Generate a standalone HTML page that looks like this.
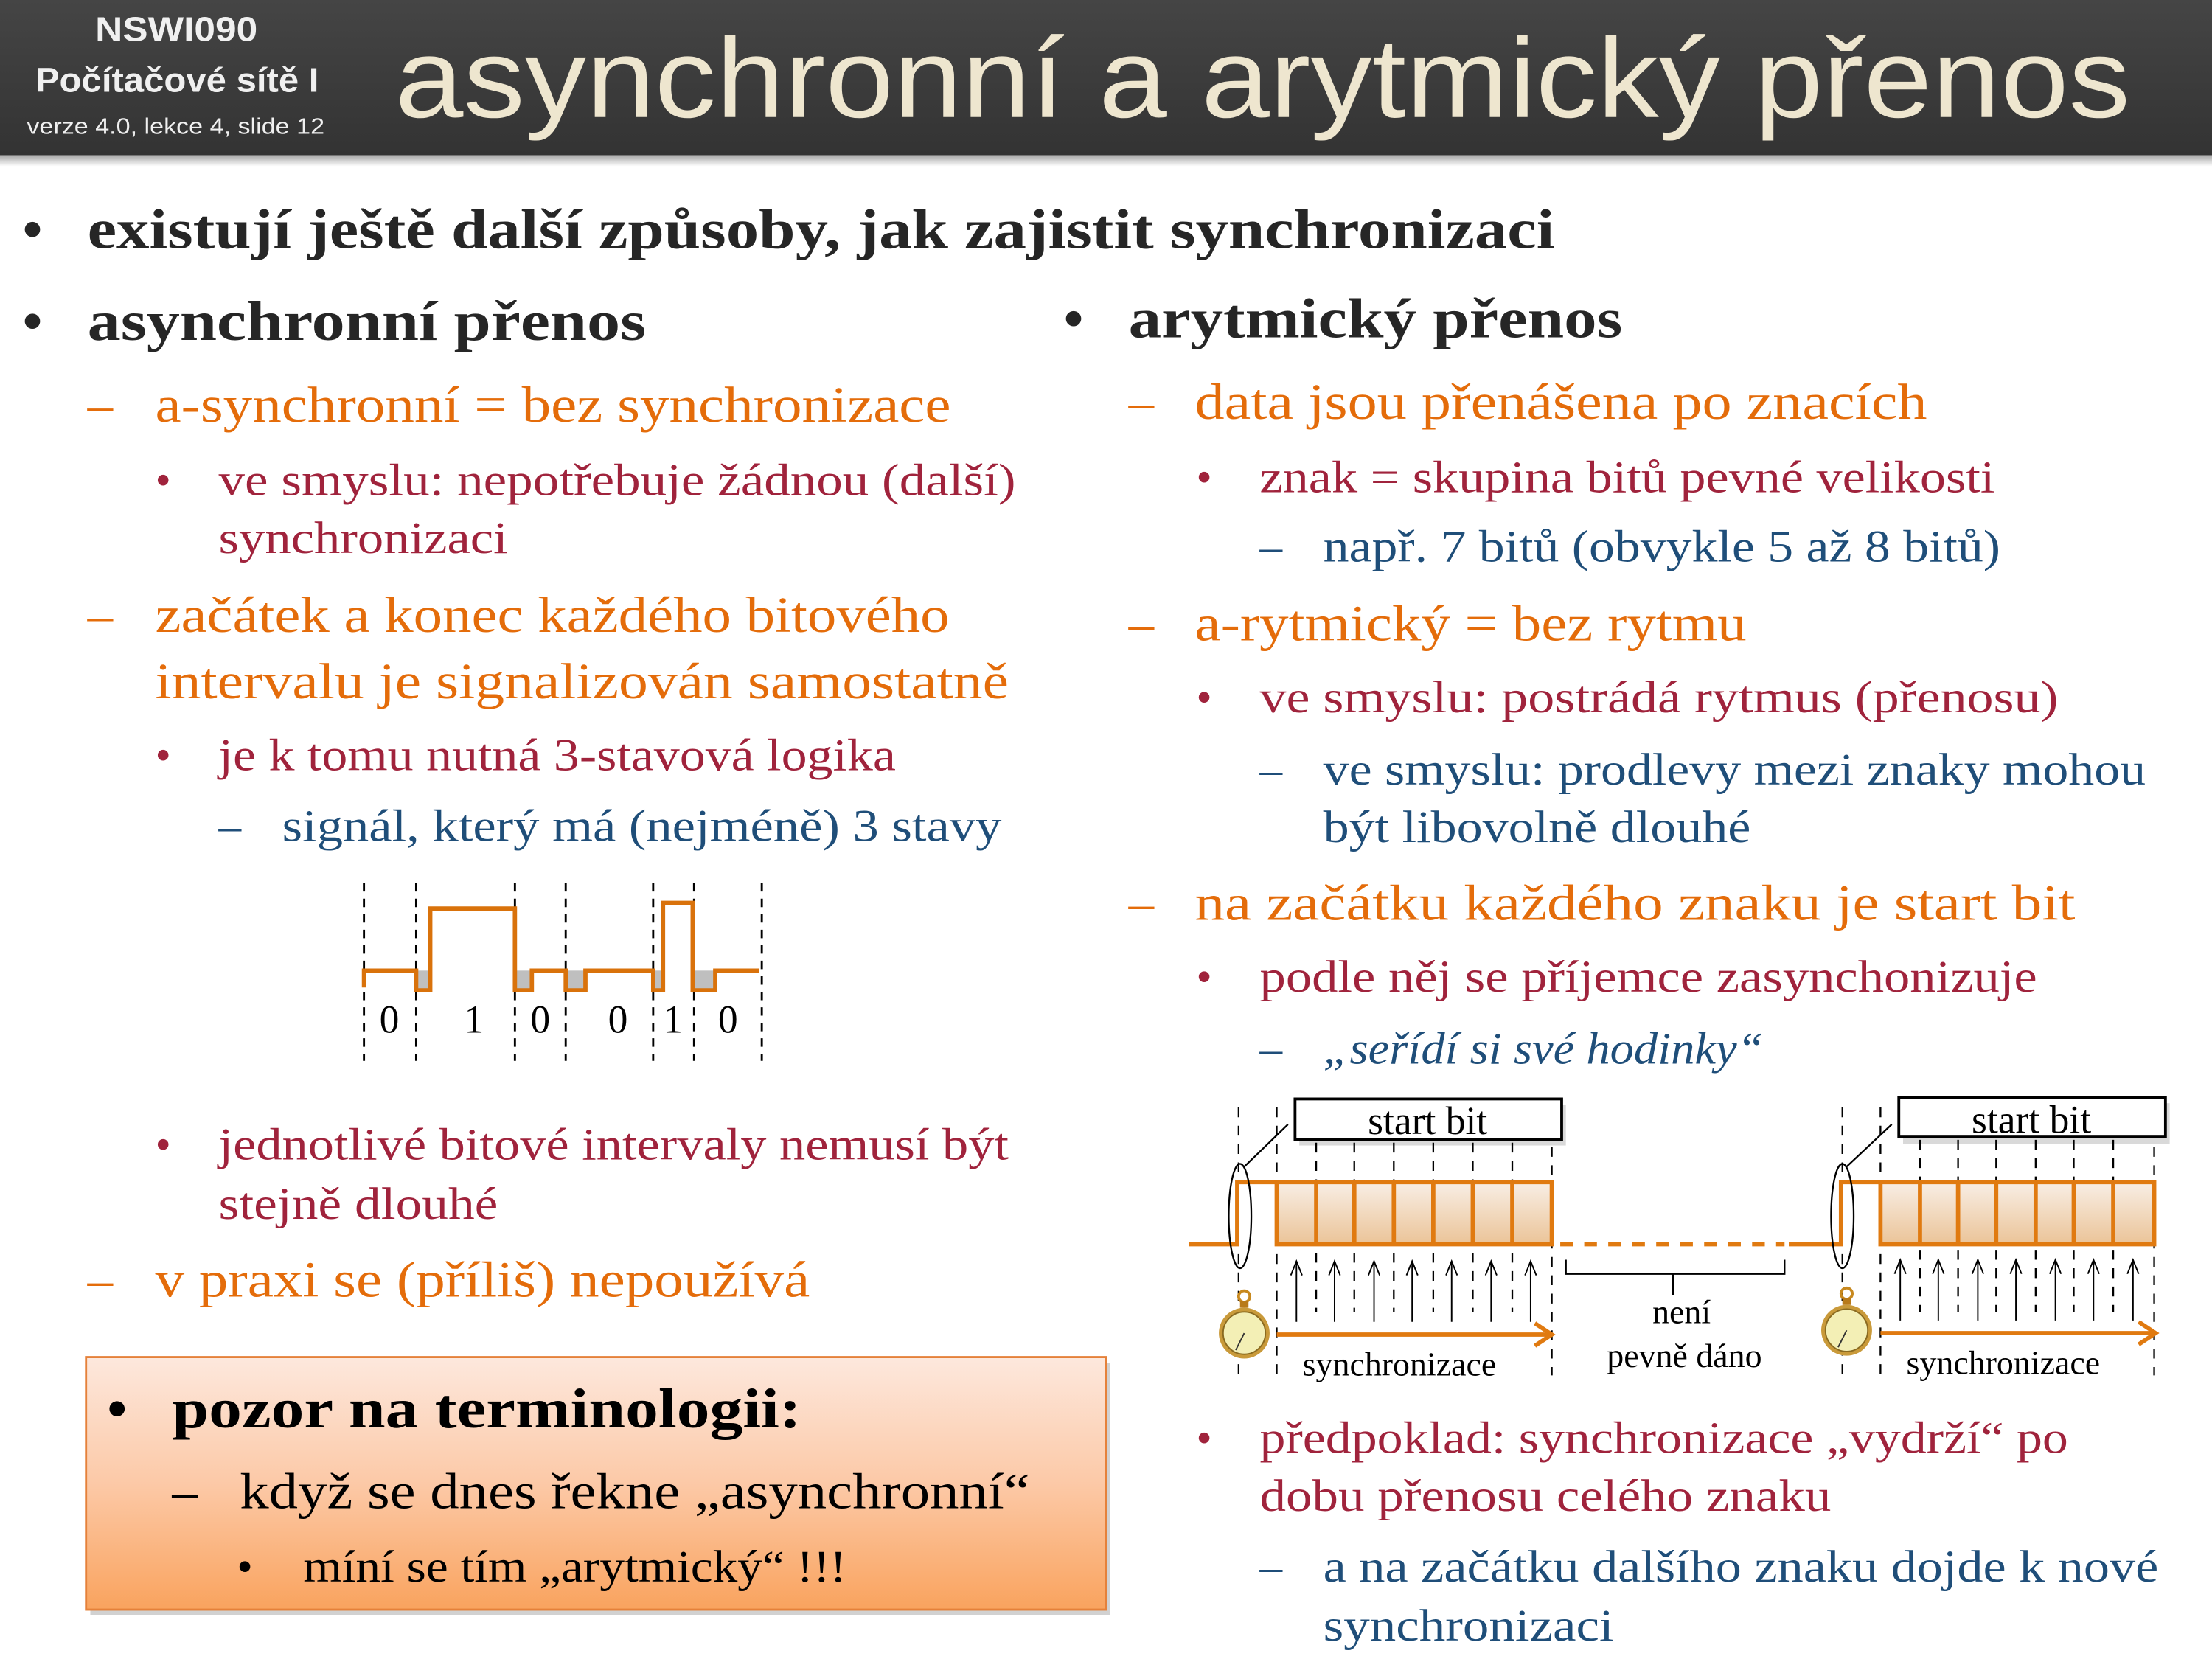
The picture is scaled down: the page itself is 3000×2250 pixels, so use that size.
<!DOCTYPE html>
<html><head><meta charset="utf-8"><style>
html,body{margin:0;padding:0;background:#fff;}
svg{display:block;}
.s{font-family:"Liberation Serif",serif;}
.b{font-weight:bold;fill:#262626;}
.o{fill:#e46c0a;font-size:36px;}
.r{fill:#a0233c;font-size:32px;}
.u{fill:#1f4e79;font-size:32px;}
.k{fill:#000;}
</style></head><body>
<svg width="3000" height="2250" viewBox="0 0 1568 1176" xmlns="http://www.w3.org/2000/svg">
<defs>
<linearGradient id="hdr" x1="0" y1="0" x2="0" y2="1"><stop offset="0" stop-color="#454545"/><stop offset="1" stop-color="#333"/></linearGradient>
<linearGradient id="box" x1="0" y1="0" x2="0" y2="1"><stop offset="0" stop-color="#fde8dd"/><stop offset="0.5" stop-color="#fcc9a7"/><stop offset="1" stop-color="#f9a35e"/></linearGradient>
<linearGradient id="cell" x1="0" y1="0" x2="0" y2="1"><stop offset="0" stop-color="#f8eee5"/><stop offset="1" stop-color="#ebc498"/></linearGradient>
<linearGradient id="shd" x1="0" y1="0" x2="0" y2="1"><stop offset="0" stop-color="#000" stop-opacity="0.35"/><stop offset="1" stop-color="#000" stop-opacity="0"/></linearGradient>
<marker id="ah" markerWidth="12" markerHeight="12" refX="10" refY="5" orient="auto" markerUnits="userSpaceOnUse" overflow="visible"><path d="M0,1 L10,5 L0,9" fill="none" stroke="#000" stroke-width="1"/></marker>
</defs>
<!-- header -->
<rect x="0" y="110" width="1568" height="8" fill="url(#shd)"/>
<rect x="0" y="0" width="1568" height="110" fill="url(#hdr)"/>
<g font-family="Liberation Sans, sans-serif" fill="#f0f0f0">
<text x="125" y="29" font-size="24" font-weight="bold" text-anchor="middle" textLength="115" lengthAdjust="spacingAndGlyphs">NSWI090</text>
<text x="25" y="65" font-size="24" font-weight="bold" textLength="201" lengthAdjust="spacingAndGlyphs">Počítačové sítě I</text>
<text x="19" y="95" font-size="16" textLength="211" lengthAdjust="spacingAndGlyphs">verze 4.0, lekce  4, slide 12</text>
<text x="280" y="83" font-size="80" fill="#eee6cf" textLength="1230" lengthAdjust="spacingAndGlyphs">asynchronní a arytmický přenos</text>
</g>

<g class="s">
<text x="16" y="176" font-size="40" class="b">•</text>
<text x="62" y="176" font-size="40" class="b" textLength="1040" lengthAdjust="spacingAndGlyphs">existují ještě další způsoby, jak zajistit synchronizaci</text>
<text x="16" y="241" font-size="40" class="b">•</text>
<text x="62" y="241" font-size="40" class="b" textLength="396" lengthAdjust="spacingAndGlyphs">asynchronní přenos</text>
<text x="754" y="239" font-size="40" class="b">•</text>
<text x="800" y="239" font-size="40" class="b" textLength="350" lengthAdjust="spacingAndGlyphs">arytmický přenos</text>

<text x="62" y="299" class="o">–</text><text x="110" y="299" class="o" textLength="564" lengthAdjust="spacingAndGlyphs">a-synchronní = bez synchronizace</text>
<text x="110" y="351" class="r">•</text><text x="155" y="351" class="r" textLength="565" lengthAdjust="spacingAndGlyphs">ve smyslu: nepotřebuje žádnou (další)</text>
<text x="155" y="392" class="r" textLength="205" lengthAdjust="spacingAndGlyphs">synchronizaci</text>
<text x="62" y="448" class="o">–</text><text x="110" y="448" class="o" textLength="563" lengthAdjust="spacingAndGlyphs">začátek a konec každého bitového</text>
<text x="110" y="495" class="o" textLength="605" lengthAdjust="spacingAndGlyphs">intervalu je signalizován samostatně</text>
<text x="110" y="546" class="r">•</text><text x="155" y="546" class="r" textLength="480" lengthAdjust="spacingAndGlyphs">je k tomu nutná 3-stavová logika</text>
<text x="155" y="596" class="u">–</text><text x="200" y="596" class="u" textLength="510" lengthAdjust="spacingAndGlyphs">signál, který má (nejméně) 3 stavy</text>
<text x="110" y="822" class="r">•</text><text x="155" y="822" class="r" textLength="560" lengthAdjust="spacingAndGlyphs">jednotlivé bitové intervaly nemusí být</text>
<text x="155" y="864" class="r" textLength="198" lengthAdjust="spacingAndGlyphs">stejně dlouhé</text>
<text x="62" y="919" class="o">–</text><text x="110" y="919" class="o" textLength="464" lengthAdjust="spacingAndGlyphs">v praxi se (příliš) nepoužívá</text>

<text x="800" y="297" class="o">–</text><text x="847" y="297" class="o" textLength="519" lengthAdjust="spacingAndGlyphs">data jsou přenášena po znacích</text>
<text x="848" y="349" class="r">•</text><text x="893" y="349" class="r" textLength="521" lengthAdjust="spacingAndGlyphs">znak = skupina bitů pevné velikosti</text>
<text x="893" y="398" class="u">–</text><text x="938" y="398" class="u" textLength="480" lengthAdjust="spacingAndGlyphs">např. 7 bitů (obvykle 5 až 8 bitů)</text>
<text x="800" y="454" class="o">–</text><text x="847" y="454" class="o" textLength="391" lengthAdjust="spacingAndGlyphs">a-rytmický = bez rytmu</text>
<text x="848" y="505" class="r">•</text><text x="893" y="505" class="r" textLength="566" lengthAdjust="spacingAndGlyphs">ve smyslu: postrádá rytmus (přenosu)</text>
<text x="893" y="556" class="u">–</text><text x="938" y="556" class="u" textLength="583" lengthAdjust="spacingAndGlyphs">ve smyslu: prodlevy mezi znaky mohou</text>
<text x="938" y="597" class="u" textLength="303" lengthAdjust="spacingAndGlyphs">být libovolně dlouhé</text>
<text x="800" y="652" class="o">–</text><text x="847" y="652" class="o" textLength="624" lengthAdjust="spacingAndGlyphs">na začátku každého znaku  je start bit</text>
<text x="848" y="703" class="r">•</text><text x="893" y="703" class="r" textLength="551" lengthAdjust="spacingAndGlyphs">podle něj se příjemce zasynchonizuje</text>
<text x="893" y="754" class="u">–</text><text x="938" y="754" class="u" font-style="italic" textLength="312" lengthAdjust="spacingAndGlyphs">„seřídí si své hodinky“</text>
<text x="848" y="1030" class="r">•</text><text x="893" y="1030" class="r" textLength="573" lengthAdjust="spacingAndGlyphs">předpoklad: synchronizace „vydrží“ po</text>
<text x="893" y="1071" class="r" textLength="405" lengthAdjust="spacingAndGlyphs">dobu přenosu celého znaku</text>
<text x="893" y="1121" class="u">–</text><text x="938" y="1121" class="u" textLength="592" lengthAdjust="spacingAndGlyphs">a na začátku dalšího znaku dojde k nové</text>
<text x="938" y="1163" class="u" textLength="206" lengthAdjust="spacingAndGlyphs">synchronizaci</text>
</g>

<rect x="64" y="966" width="723" height="179" fill="#000" opacity="0.18"/>
<rect x="61" y="962" width="723" height="179" fill="url(#box)" stroke="#e5813a" stroke-width="1.5"/>
<g class="s k">
<text x="76" y="1012" font-size="40" font-weight="bold">•</text>
<text x="122" y="1012" font-size="40" font-weight="bold" textLength="446" lengthAdjust="spacingAndGlyphs">pozor na terminologii:</text>
<text x="122" y="1069" font-size="36">–</text>
<text x="170" y="1069" font-size="36" textLength="560" lengthAdjust="spacingAndGlyphs">když se dnes řekne „asynchronní“</text>
<text x="168" y="1121" font-size="32">•</text>
<text x="215" y="1121" font-size="32" textLength="385" lengthAdjust="spacingAndGlyphs">míní se tím „arytmický“ !!!</text>
</g>

<g stroke="#000" stroke-width="1.5" stroke-dasharray="6,5">
<line x1="258" y1="626" x2="258" y2="752"/><line x1="295" y1="626" x2="295" y2="752"/>
<line x1="365" y1="626" x2="365" y2="752"/><line x1="401" y1="626" x2="401" y2="752"/>
<line x1="463" y1="626" x2="463" y2="752"/><line x1="492" y1="626" x2="492" y2="752"/>
<line x1="540" y1="626" x2="540" y2="752"/>
</g>
<g fill="#bfbfbf">
<rect x="295" y="688" width="10" height="14"/><rect x="365" y="688" width="12" height="14"/>
<rect x="401" y="688" width="14" height="14"/><rect x="463" y="688" width="7" height="14"/>
<rect x="492" y="688" width="15" height="14"/>
</g>
<path d="M258,700 V688 H295 V702 H305 V644 H365 V702 H377 V688 H401 V702 H415 V688 H463 V702 H470 V640 H491 V702 H507 V688 H538" fill="none" stroke="#d9720b" stroke-width="3"/>
<g class="s" font-size="28" fill="#000" text-anchor="middle">
<text x="276" y="732">0</text><text x="336" y="732">1</text><text x="383" y="732">0</text>
<text x="438" y="732">0</text><text x="477" y="732">1</text><text x="516" y="732">0</text>
</g>

<g stroke="#000" stroke-width="1.2" stroke-dasharray="7,6">
<line x1="878" y1="785" x2="878" y2="975"/><line x1="905" y1="785" x2="905" y2="975"/>
<line x1="933" y1="810" x2="933" y2="930"/><line x1="960" y1="810" x2="960" y2="930"/>
<line x1="988" y1="810" x2="988" y2="930"/><line x1="1016" y1="810" x2="1016" y2="930"/>
<line x1="1044" y1="810" x2="1044" y2="930"/><line x1="1072" y1="810" x2="1072" y2="930"/>
<line x1="1100" y1="800" x2="1100" y2="975"/>
<line x1="1306" y1="785" x2="1306" y2="975"/><line x1="1333" y1="785" x2="1333" y2="975"/>
<line x1="1361" y1="808" x2="1361" y2="930"/><line x1="1388" y1="808" x2="1388" y2="930"/>
<line x1="1415" y1="808" x2="1415" y2="930"/><line x1="1443" y1="808" x2="1443" y2="930"/>
<line x1="1470" y1="808" x2="1470" y2="930"/><line x1="1498" y1="808" x2="1498" y2="930"/>
<line x1="1527" y1="800" x2="1527" y2="975"/>
</g>
<rect x="905" y="838" width="195" height="44" fill="url(#cell)"/>
<rect x="1333" y="838" width="194" height="44" fill="url(#cell)"/>
<g stroke="#e07a10" stroke-width="3" fill="none">
<path d="M843,882 H877 V838 H1100 V882 H905 V838"/>
<path d="M933,838 V882 M960,838 V882 M988,838 V882 M1016,838 V882 M1044,838 V882 M1072,838 V882"/>
<path d="M1268,882 H1305 V838 H1527 V882 H1333 V838"/>
<path d="M1361,838 V882 M1388,838 V882 M1415,838 V882 M1443,838 V882 M1470,838 V882 M1498,838 V882"/>
<path d="M1106,882 H1265" stroke-dasharray="9,8"/>
<path d="M905,946 H1098 M1088,938 L1100,946 L1088,954" />
<path d="M1333,945 H1526 M1516,937 L1528,945 L1516,953"/>
</g>
<rect x="921" y="783" width="189" height="29" fill="#000" opacity="0.15"/>
<rect x="918" y="779" width="189" height="29" fill="#fff" stroke="#000" stroke-width="2"/>
<rect x="1349" y="782" width="189" height="29" fill="#000" opacity="0.15"/>
<rect x="1346" y="778" width="189" height="28" fill="#fff" stroke="#000" stroke-width="2"/>
<g class="s" font-size="28" fill="#000" text-anchor="middle">
<text x="1012" y="804">start bit</text>
<text x="1440" y="803">start bit</text>
</g>
<g stroke="#000" stroke-width="1.2" fill="none">
<line x1="913" y1="797" x2="882" y2="827"/>
<ellipse cx="879" cy="862" rx="8" ry="37"/>
<line x1="1341" y1="797" x2="1309" y2="827"/>
<ellipse cx="1306" cy="862" rx="8" ry="37"/>
<path d="M1110,893 V903 H1186 V918 M1186,903 H1265 V893"/>
</g>
<g stroke="#000" stroke-width="1" marker-end="url(#ah)">
<line x1="919" y1="937" x2="919" y2="894"/><line x1="946" y1="937" x2="946" y2="894"/>
<line x1="974" y1="937" x2="974" y2="894"/><line x1="1001" y1="937" x2="1001" y2="894"/>
<line x1="1029" y1="937" x2="1029" y2="894"/><line x1="1057" y1="937" x2="1057" y2="894"/>
<line x1="1085" y1="937" x2="1085" y2="894"/>
<line x1="1347" y1="936" x2="1347" y2="893"/><line x1="1374" y1="936" x2="1374" y2="893"/>
<line x1="1402" y1="936" x2="1402" y2="893"/><line x1="1429" y1="936" x2="1429" y2="893"/>
<line x1="1457" y1="936" x2="1457" y2="893"/><line x1="1484" y1="936" x2="1484" y2="893"/>
<line x1="1512" y1="936" x2="1512" y2="893"/>
</g>
<g>
<circle cx="882" cy="919" r="4" fill="none" stroke="#c8891f" stroke-width="2"/>
<rect x="879" y="922" width="6" height="5" fill="#b87a1a"/>
<circle cx="882" cy="945" r="18" fill="#c99a3a"/>
<circle cx="882" cy="945" r="15" fill="#f3efb5" stroke="#8a6a20" stroke-width="1"/>
<line x1="882" y1="945" x2="876" y2="957" stroke="#333" stroke-width="1"/>
<circle cx="1309" cy="917" r="4" fill="none" stroke="#c8891f" stroke-width="2"/>
<rect x="1306" y="920" width="6" height="5" fill="#b87a1a"/>
<circle cx="1309" cy="943" r="18" fill="#c99a3a"/>
<circle cx="1309" cy="943" r="15" fill="#f3efb5" stroke="#8a6a20" stroke-width="1"/>
<line x1="1309" y1="943" x2="1303" y2="955" stroke="#333" stroke-width="1"/>
</g>
<g class="s" font-size="24" fill="#000" text-anchor="middle">
<text x="992" y="975">synchronizace</text>
<text x="1420" y="974">synchronizace</text>
<text x="1192" y="938">není</text>
<text x="1194" y="969">pevně dáno</text>
</g>
</svg>
</body></html>
